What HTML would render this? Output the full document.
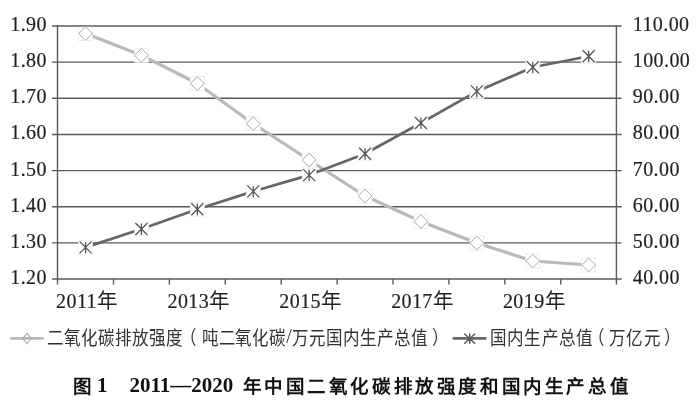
<!DOCTYPE html>
<html lang="zh-CN"><head><meta charset="utf-8"><style>
html,body{margin:0;padding:0;background:#fff;width:700px;height:410px;overflow:hidden}
svg{display:block} text{filter:grayscale(1)}
.n{font-family:"Liberation Serif",serif;font-size:20px;letter-spacing:0.4px;fill:#231f20;stroke:#231f20;stroke-width:0.2px}
.cj{font-size:20.5px;font-weight:300;letter-spacing:0;stroke-width:0}
.lg{font-family:"Liberation Serif",serif;font-size:19px;font-weight:300;fill:#333}
.tc{font-family:"Liberation Sans",sans-serif;font-size:18.5px;font-weight:bold;fill:#111}
.tn{font-family:"Liberation Serif",serif;font-size:21px;font-weight:bold;fill:#111}
</style></head><body>
<svg width="700" height="410" viewBox="0 0 700 410">
<line x1="52" y1="26.00" x2="621.6" y2="26.00" stroke="#5e5858" stroke-width="1.4"/>
<line x1="52" y1="62.15" x2="621.6" y2="62.15" stroke="#5e5858" stroke-width="1.4"/>
<line x1="52" y1="98.30" x2="621.6" y2="98.30" stroke="#5e5858" stroke-width="1.4"/>
<line x1="52" y1="134.45" x2="621.6" y2="134.45" stroke="#5e5858" stroke-width="1.4"/>
<line x1="52" y1="170.60" x2="621.6" y2="170.60" stroke="#5e5858" stroke-width="1.4"/>
<line x1="52" y1="206.75" x2="621.6" y2="206.75" stroke="#5e5858" stroke-width="1.4"/>
<line x1="52" y1="242.90" x2="621.6" y2="242.90" stroke="#5e5858" stroke-width="1.4"/>
<line x1="52" y1="279.05" x2="621.6" y2="279.05" stroke="#5e5858" stroke-width="1.4"/>
<line x1="57.5" y1="25.30" x2="57.5" y2="284.6" stroke="#5e5858" stroke-width="1.4"/>
<line x1="616.4" y1="25.30" x2="616.4" y2="284.6" stroke="#5e5858" stroke-width="1.4"/>
<line x1="113.50" y1="279.05" x2="113.50" y2="284.6" stroke="#5e5858" stroke-width="1.4"/>
<line x1="169.40" y1="279.05" x2="169.40" y2="284.6" stroke="#5e5858" stroke-width="1.4"/>
<line x1="225.30" y1="279.05" x2="225.30" y2="284.6" stroke="#5e5858" stroke-width="1.4"/>
<line x1="281.20" y1="279.05" x2="281.20" y2="284.6" stroke="#5e5858" stroke-width="1.4"/>
<line x1="337.10" y1="279.05" x2="337.10" y2="284.6" stroke="#5e5858" stroke-width="1.4"/>
<line x1="393.00" y1="279.05" x2="393.00" y2="284.6" stroke="#5e5858" stroke-width="1.4"/>
<line x1="448.90" y1="279.05" x2="448.90" y2="284.6" stroke="#5e5858" stroke-width="1.4"/>
<line x1="504.80" y1="279.05" x2="504.80" y2="284.6" stroke="#5e5858" stroke-width="1.4"/>
<line x1="560.70" y1="279.05" x2="560.70" y2="284.6" stroke="#5e5858" stroke-width="1.4"/>
<polyline points="85.55,33.60 141.45,55.30 197.35,83.50 253.25,123.70 309.15,160.00 365.05,196.00 420.95,221.50 476.85,243.00 532.75,261.00 588.65,265.00" fill="none" stroke="#b9b9b9" stroke-width="3.2" stroke-linejoin="round"/>
<rect x="78.55" y="27.20" width="14" height="13.40" fill="#fff" stroke="#e9e9e9" stroke-width="0.7"/>
<path d="M85.55 26.80L92.45 33.60L85.55 40.40L78.65 33.60Z" fill="#fff" stroke="#aaa" stroke-width="1"/>
<rect x="134.45" y="48.30" width="14" height="14.00" fill="#fff" stroke="#e9e9e9" stroke-width="0.7"/>
<path d="M141.45 48.50L148.35 55.30L141.45 62.10L134.55 55.30Z" fill="#fff" stroke="#aaa" stroke-width="1"/>
<rect x="190.35" y="76.50" width="14" height="14.00" fill="#fff" stroke="#e9e9e9" stroke-width="0.7"/>
<path d="M197.35 76.70L204.25 83.50L197.35 90.30L190.45 83.50Z" fill="#fff" stroke="#aaa" stroke-width="1"/>
<rect x="246.25" y="116.70" width="14" height="14.00" fill="#fff" stroke="#e9e9e9" stroke-width="0.7"/>
<path d="M253.25 116.90L260.15 123.70L253.25 130.50L246.35 123.70Z" fill="#fff" stroke="#aaa" stroke-width="1"/>
<rect x="302.15" y="153.00" width="14" height="14.00" fill="#fff" stroke="#e9e9e9" stroke-width="0.7"/>
<path d="M309.15 153.20L316.05 160.00L309.15 166.80L302.25 160.00Z" fill="#fff" stroke="#aaa" stroke-width="1"/>
<rect x="358.05" y="189.00" width="14" height="14.00" fill="#fff" stroke="#e9e9e9" stroke-width="0.7"/>
<path d="M365.05 189.20L371.95 196.00L365.05 202.80L358.15 196.00Z" fill="#fff" stroke="#aaa" stroke-width="1"/>
<rect x="413.95" y="214.50" width="14" height="14.00" fill="#fff" stroke="#e9e9e9" stroke-width="0.7"/>
<path d="M420.95 214.70L427.85 221.50L420.95 228.30L414.05 221.50Z" fill="#fff" stroke="#aaa" stroke-width="1"/>
<rect x="469.85" y="236.00" width="14" height="14.00" fill="#fff" stroke="#e9e9e9" stroke-width="0.7"/>
<path d="M476.85 236.20L483.75 243.00L476.85 249.80L469.95 243.00Z" fill="#fff" stroke="#aaa" stroke-width="1"/>
<rect x="525.75" y="254.00" width="14" height="14.00" fill="#fff" stroke="#e9e9e9" stroke-width="0.7"/>
<path d="M532.75 254.20L539.65 261.00L532.75 267.80L525.85 261.00Z" fill="#fff" stroke="#aaa" stroke-width="1"/>
<rect x="581.65" y="258.00" width="14" height="14.00" fill="#fff" stroke="#e9e9e9" stroke-width="0.7"/>
<path d="M588.65 258.20L595.55 265.00L588.65 271.80L581.75 265.00Z" fill="#fff" stroke="#aaa" stroke-width="1"/>
<polyline points="85.55,247.40 141.45,229.00 197.35,209.30 253.25,191.40 309.15,175.10 365.05,153.70 420.95,123.00 476.85,91.40 532.75,67.20 588.65,56.20" fill="none" stroke="#666" stroke-width="2.7" stroke-linejoin="round"/>
<rect x="78.55" y="240.40" width="14" height="14" fill="#fff" stroke="#efefef" stroke-width="0.8"/>
<path d="M79.55 241.40L91.55 253.40M79.55 253.40L91.55 241.40M85.55 241.90L85.55 253.40" stroke="#555" stroke-width="1.3" fill="none"/>
<rect x="134.45" y="222.00" width="14" height="14" fill="#fff" stroke="#efefef" stroke-width="0.8"/>
<path d="M135.45 223.00L147.45 235.00M135.45 235.00L147.45 223.00M141.45 223.50L141.45 235.00" stroke="#555" stroke-width="1.3" fill="none"/>
<rect x="190.35" y="202.30" width="14" height="14" fill="#fff" stroke="#efefef" stroke-width="0.8"/>
<path d="M191.35 203.30L203.35 215.30M191.35 215.30L203.35 203.30M197.35 203.80L197.35 215.30" stroke="#555" stroke-width="1.3" fill="none"/>
<rect x="246.25" y="184.40" width="14" height="14" fill="#fff" stroke="#efefef" stroke-width="0.8"/>
<path d="M247.25 185.40L259.25 197.40M247.25 197.40L259.25 185.40M253.25 185.90L253.25 197.40" stroke="#555" stroke-width="1.3" fill="none"/>
<rect x="302.15" y="168.10" width="14" height="14" fill="#fff" stroke="#efefef" stroke-width="0.8"/>
<path d="M303.15 169.10L315.15 181.10M303.15 181.10L315.15 169.10M309.15 169.60L309.15 181.10" stroke="#555" stroke-width="1.3" fill="none"/>
<rect x="358.05" y="146.70" width="14" height="14" fill="#fff" stroke="#efefef" stroke-width="0.8"/>
<path d="M359.05 147.70L371.05 159.70M359.05 159.70L371.05 147.70M365.05 148.20L365.05 159.70" stroke="#555" stroke-width="1.3" fill="none"/>
<rect x="413.95" y="116.00" width="14" height="14" fill="#fff" stroke="#efefef" stroke-width="0.8"/>
<path d="M414.95 117.00L426.95 129.00M414.95 129.00L426.95 117.00M420.95 117.50L420.95 129.00" stroke="#555" stroke-width="1.3" fill="none"/>
<rect x="469.85" y="84.40" width="14" height="14" fill="#fff" stroke="#efefef" stroke-width="0.8"/>
<path d="M470.85 85.40L482.85 97.40M470.85 97.40L482.85 85.40M476.85 85.90L476.85 97.40" stroke="#555" stroke-width="1.3" fill="none"/>
<rect x="525.75" y="60.20" width="14" height="14" fill="#fff" stroke="#efefef" stroke-width="0.8"/>
<path d="M526.75 61.20L538.75 73.20M526.75 73.20L538.75 61.20M532.75 61.70L532.75 73.20" stroke="#555" stroke-width="1.3" fill="none"/>
<rect x="581.65" y="49.20" width="14" height="14" fill="#fff" stroke="#efefef" stroke-width="0.8"/>
<path d="M582.65 50.20L594.65 62.20M582.65 62.20L594.65 50.20M588.65 50.70L588.65 62.20" stroke="#555" stroke-width="1.3" fill="none"/>
<text x="46.9" y="30.90" text-anchor="end" class="n">1.90</text>
<text x="46.9" y="67.05" text-anchor="end" class="n">1.80</text>
<text x="46.9" y="103.20" text-anchor="end" class="n">1.70</text>
<text x="46.9" y="139.35" text-anchor="end" class="n">1.60</text>
<text x="46.9" y="175.50" text-anchor="end" class="n">1.50</text>
<text x="46.9" y="211.65" text-anchor="end" class="n">1.40</text>
<text x="46.9" y="247.80" text-anchor="end" class="n">1.30</text>
<text x="46.9" y="283.95" text-anchor="end" class="n">1.20</text>
<text x="632.8" y="30.90" class="n">110.00</text>
<text x="632.8" y="67.05" class="n">100.00</text>
<text x="632.8" y="103.20" class="n">90.00</text>
<text x="632.8" y="139.35" class="n">80.00</text>
<text x="632.8" y="175.50" class="n">70.00</text>
<text x="632.8" y="211.65" class="n">60.00</text>
<text x="632.8" y="247.80" class="n">50.00</text>
<text x="632.8" y="283.95" class="n">40.00</text>
<text x="86.55" y="308.2" text-anchor="middle" class="n">2011<tspan class="cj">年</tspan></text>
<text x="198.35" y="308.2" text-anchor="middle" class="n">2013<tspan class="cj">年</tspan></text>
<text x="310.15" y="308.2" text-anchor="middle" class="n">2015<tspan class="cj">年</tspan></text>
<text x="421.95" y="308.2" text-anchor="middle" class="n">2017<tspan class="cj">年</tspan></text>
<text x="533.75" y="308.2" text-anchor="middle" class="n">2019<tspan class="cj">年</tspan></text>
<line x1="11.4" y1="338.4" x2="42.7" y2="338.4" stroke="#b9b9b9" stroke-width="2.6" stroke-linecap="round"/>
<path d="M27 333.4L31.2 338.5L27 343.6L22.8 338.5Z" fill="none" stroke="#aaa" stroke-width="1.1"/>
<text transform="scale(0.87,1)" x="53.68 73.30 92.92 112.54 132.16 151.78 171.40 191.02 207.47 231.72 251.21 270.69 290.17 309.66 335.29 354.84 374.39 393.94 413.49 433.05 452.60 472.15 496.21" y="344.8" class="lg">二氧化碳排放强度（吨二氧化碳万元国内生产总值）</text>
<text x="286.3" y="343.4" class="lg" style="font-size:20px">/</text>
<line x1="453.8" y1="338.4" x2="485.3" y2="338.4" stroke="#666" stroke-width="2.6" stroke-linecap="round"/>
<path d="M464.7 334.0L474.7 343.20000000000005M464.7 343.20000000000005L474.7 334.0M469.7 334.0L469.7 343.20000000000005" stroke="#5a5a5a" stroke-width="1.5" fill="none" stroke-linecap="round"/>
<text transform="scale(0.87,1)" x="563.33 583.03 602.74 622.44 642.14 661.84 675.75 699.54 719.66 740.00 763.10" y="344.8" class="lg">国内生产总值（万亿元）</text>
<text x="72.8" y="392.5" class="tc">图</text>
<text x="97" y="391.7" class="tn">1</text>
<text x="129.5" y="391.7" class="tn">2011—2020</text>
<text x="242.5" y="392.5" class="tc" textLength="386" lengthAdjust="spacing">年中国二氧化碳排放强度和国内生产总值</text>
</svg>
</body></html>
